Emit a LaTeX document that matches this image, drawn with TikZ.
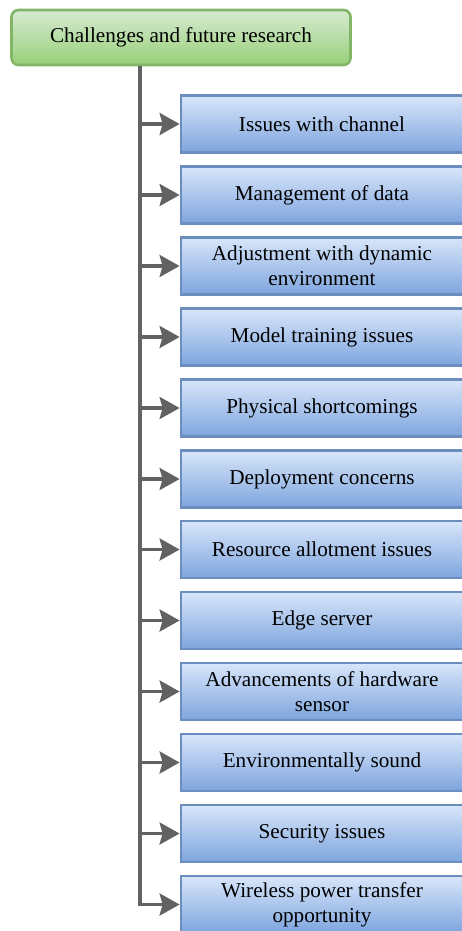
\documentclass[tikz,border=0pt]{standalone}
\usepackage{fontspec}
\setmainfont{Liberation Serif}
\usetikzlibrary{arrows.meta}

\definecolor{roottop}{RGB}{214,234,210}
\definecolor{rootbot}{RGB}{152,208,120}
\definecolor{rootedge}{RGB}{130,182,102}
\definecolor{itemtop}{RGB}{216,230,250}
\definecolor{itembot}{RGB}{126,165,222}
\definecolor{itemedge}{RGB}{108,142,191}
\definecolor{feedgray}{RGB}{98,98,98}

\tikzset{
  rootbox/.style={draw=rootedge, line width=2.6pt, rounded corners=7pt,
    top color=roottop, bottom color=rootbot,
    minimum width=339pt, minimum height=55pt,
    font=\fontsize{21.2}{25}\selectfont},
  itembox/.style={draw=itemedge, line width=2.8pt,
    top color=itemtop, bottom color=itembot,
    minimum width=282pt, minimum height=57pt, align=center,
    font=\fontsize{21.2}{25}\selectfont},
  feed/.style={draw=feedgray, line width=3.4pt, line join=miter,
    -{Stealth[length=20pt, width=22pt, inset=3pt]}},
}

\begin{document}
\begin{tikzpicture}[x=1pt, y=-1pt]
  \useasboundingbox (0,0) rectangle (462,931);

  % Root
  \node[rootbox] (root) at (181,37.5) {Challenges and future research};

  % Items
  \node[itembox] (c1) at (322,124) {Issues with channel};
  \node[itembox] (c2) at (322,195) {Management of data};
  \node[itembox] (c3) at (322,266) {Adjustment with dynamic\\environment};
  \node[itembox] (c4) at (322,337) {Model training issues};
  \node[itembox] (c5) at (322,408) {Physical shortcomings};
  \node[itembox] (c6) at (322,479) {Deployment concerns};
  \node[itembox] (c7) at (322,549.5) {Resource allotment issues};
  \node[itembox] (c8) at (322,620.5) {Edge server};
  \node[itembox] (c9) at (322,691.5) {Advancements of hardware\\sensor};
  \node[itembox] (c10) at (322,762.5) {Environmentally sound};
  \node[itembox] (c11) at (322,833.5) {Security issues};
  \node[itembox] (c12) at (322,904.5) {Wireless power transfer\\opportunity};

  % Junctions on the trunk
  \coordinate (j1) at (140,124);
  \coordinate (j2) at (140,195);
  \coordinate (j3) at (140,266);
  \coordinate (j4) at (140,337);
  \coordinate (j5) at (140,408);
  \coordinate (j6) at (140,479);
  \coordinate (j7) at (140,549.5);
  \coordinate (j8) at (140,620.5);
  \coordinate (j9) at (140,691.5);
  \coordinate (j10) at (140,762.5);
  \coordinate (j11) at (140,833.5);
  \coordinate (j12) at (140,904.5);

  % Trunk and last branch
  \draw[feed] (root.south -| j1) -- (j12) -- (c12.west);

  % Branches
  \draw[feed] (j1) -- (c1.west);
  \draw[feed] (j2) -- (c2.west);
  \draw[feed] (j3) -- (c3.west);
  \draw[feed] (j4) -- (c4.west);
  \draw[feed] (j5) -- (c5.west);
  \draw[feed] (j6) -- (c6.west);
  \draw[feed] (j7) -- (c7.west);
  \draw[feed] (j8) -- (c8.west);
  \draw[feed] (j9) -- (c9.west);
  \draw[feed] (j10) -- (c10.west);
  \draw[feed] (j11) -- (c11.west);
\end{tikzpicture}
\end{document}
